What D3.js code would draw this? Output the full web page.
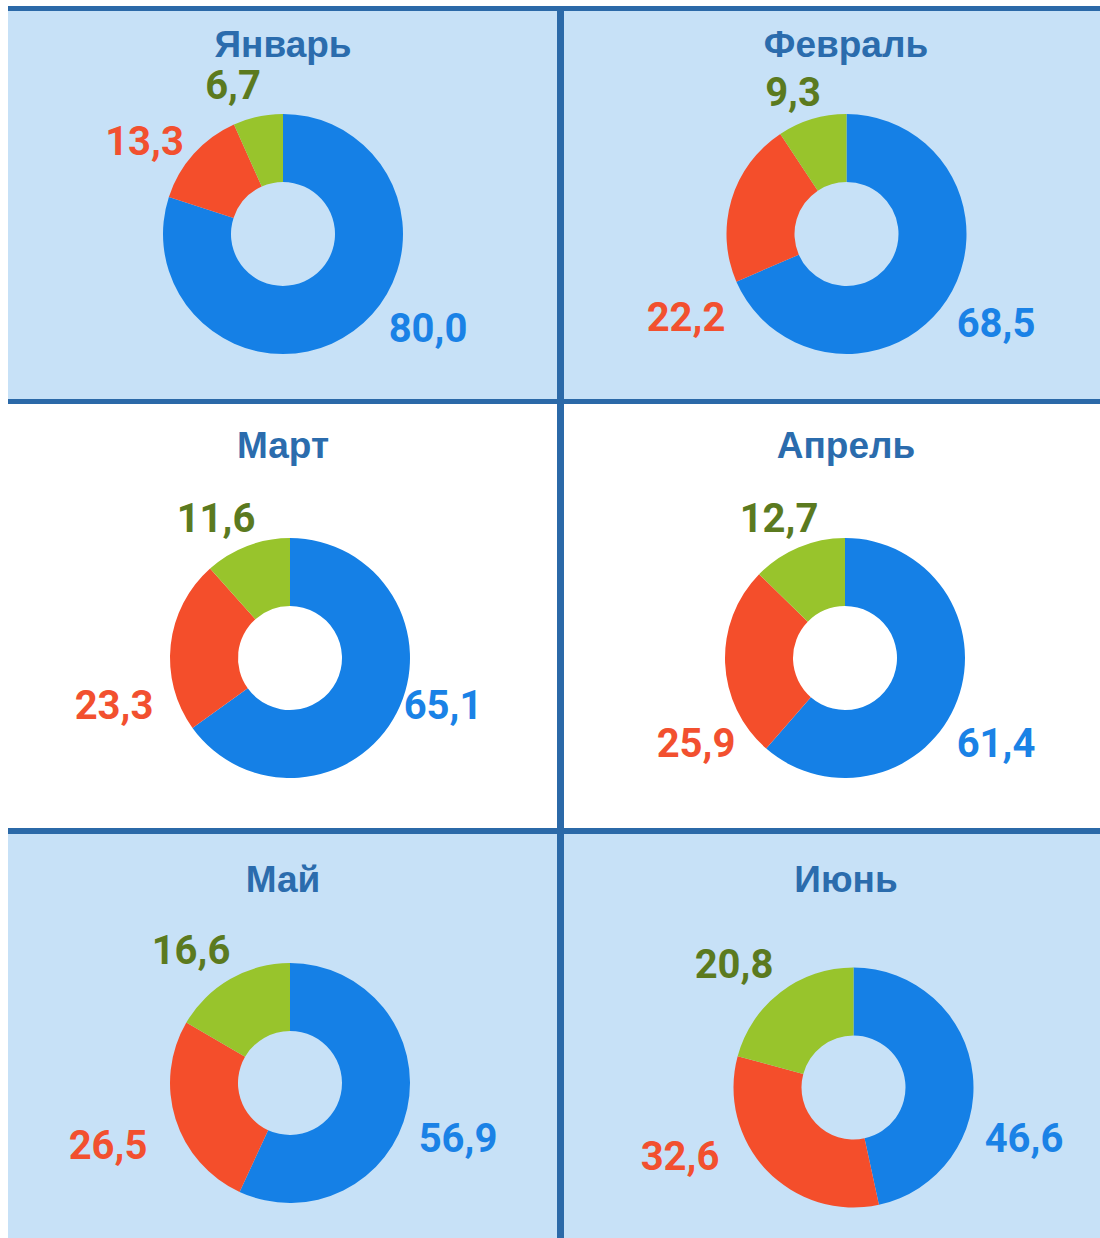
<!DOCTYPE html>
<html lang="ru">
<head>
<meta charset="UTF-8">
<title>Donuts</title>
<script src="https://d3js.org/d3.v7.min.js"></script>
<style>
  body { margin: 0; background: #fff; }
  text { font-weight: bold; }
  .title { font-family: "Liberation Sans", Arial, sans-serif; font-size: 37px; fill: #2b6cad; }
  .lbl { font-family: Roboto, "Liberation Sans", sans-serif; font-size: 40px; }
</style>
</head>
<body>
<div id="chart"></div>
<script>
// data
const months = ['Январь', 'Февраль', 'Март', 'Апрель', 'Май', 'Июнь']
const blueVals = [80.0, 68.5, 65.1, 61.4, 56.9, 46.6]
const redVals = [13.3, 22.2, 23.3, 25.9, 26.5, 32.6]
const greenVals = [6.7, 9.3, 11.6, 12.7, 16.6, 20.8]

// layout
const width = 1100, height = 1238
const sliceColors = ['#1580e6', '#f44e2b', '#98c42c']
const labelColors = ['#1a82e6', '#f2502f', '#5b7a1f']
const panelBg = ['#c7e1f7', '#c7e1f7', '#ffffff', '#ffffff', '#c7e1f7', '#c7e1f7']
const lineColor = '#2b69a8'
const colX = [[8, 557], [564, 1100]]
const rowY = [[11, 399], [404, 828], [834, 1238]]
const titleX = [283, 846]
const titleY = [57, 458, 892]
const centers = [[283, 234], [846.5, 234], [290, 658], [845, 658], [290, 1083], [853.5, 1087.5]]
// label offsets from donut center: blue, red, green
const labelOff = [
  [[145, 108], [-138.5, -79], [-50, -135]],
  [[149.5, 103], [-160.5, 97], [-53.5, -128]],
  [[153, 61], [-176, 61], [-74, -126]],
  [[151, 99], [-149, 99], [-66, -126]],
  [[168, 69], [-182, 76], [-99, -119]],
  [[170.5, 64.5], [-173.5, 82.5], [-119.5, -109.5]]
]
const outerR = 120, innerR = 52

const fmt = v => d3.format('.1f')(v).replace('.', ',')

const svg = d3.select('#chart').append('svg')
  .attr('width', width).attr('height', height)

// panels
months.forEach((m, i) => {
  let c = colX[i % 2], r = rowY[Math.floor(i / 2)]
  svg.append('rect')
    .attr('x', c[0]).attr('y', r[0])
    .attr('width', c[1] - c[0]).attr('height', r[1] - r[0])
    .attr('fill', panelBg[i])
})

// grid lines
svg.append('rect').attr('x', 8).attr('y', 6).attr('width', width - 8).attr('height', 5).attr('fill', lineColor)
svg.append('rect').attr('x', 8).attr('y', 399).attr('width', width - 8).attr('height', 5).attr('fill', lineColor)
svg.append('rect').attr('x', 8).attr('y', 828).attr('width', width - 8).attr('height', 6).attr('fill', lineColor)
svg.append('rect').attr('x', 557).attr('y', 6).attr('width', 7).attr('height', height - 6).attr('fill', lineColor)

const pie = d3.pie().sort(null).value(d => d)
const arc = d3.arc().innerRadius(innerR).outerRadius(outerR)

months.forEach((m, i) => {
  let vals = [blueVals[i], redVals[i], greenVals[i]]
  let cx = centers[i][0], cy = centers[i][1]
  let g = svg.append('g').attr('transform', `translate(${cx},${cy})`)

  g.selectAll('path')
    .data(pie(vals))
    .enter()
    .append('path')
    .attr('d', arc)
    .attr('fill', (d, j) => sliceColors[j])

  g.selectAll('text.lbl')
    .data(vals)
    .enter()
    .append('text')
    .attr('class', 'lbl')
    .attr('x', (d, j) => labelOff[i][j][0])
    .attr('y', (d, j) => labelOff[i][j][1])
    .attr('text-anchor', 'middle')
    .attr('fill', (d, j) => labelColors[j])
    .text(d => fmt(d))

  svg.append('text')
    .attr('class', 'title')
    .attr('x', titleX[i % 2])
    .attr('y', titleY[Math.floor(i / 2)])
    .attr('text-anchor', 'middle')
    .text(m)
})
</script>
</body>
</html>
